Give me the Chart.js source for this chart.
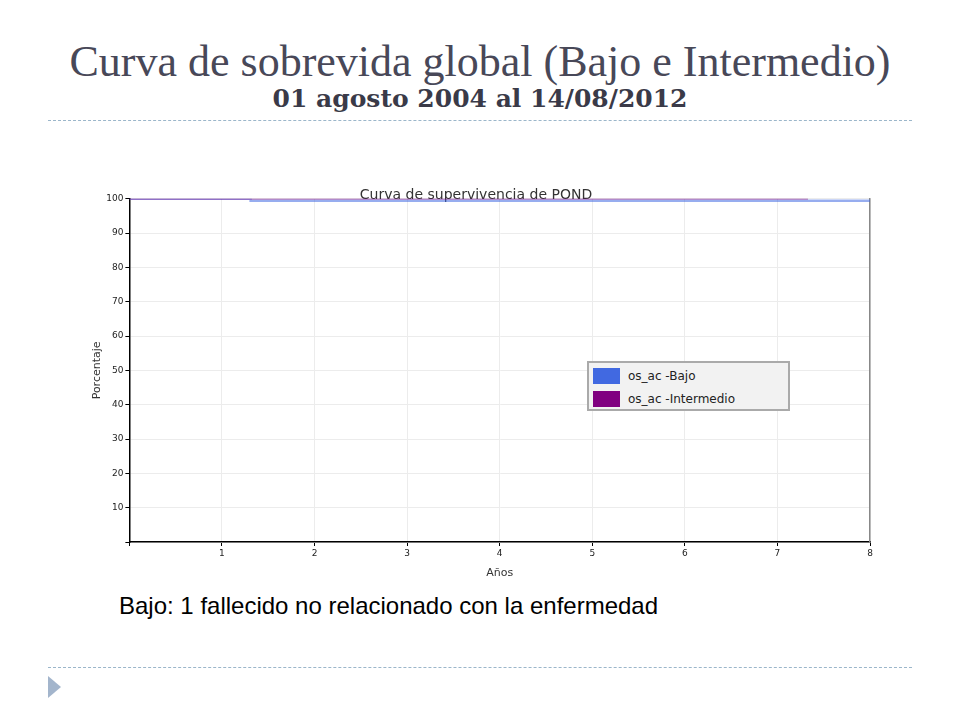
<!DOCTYPE html>
<html>
<head>
<meta charset="utf-8">
<script src="https://cdn.jsdelivr.net/npm/chart.js@4.4.1/dist/chart.umd.min.js"></script>
<style>
  body { margin: 0; width: 960px; height: 720px; background: #fff; position: relative; overflow: hidden; }
  .title { position: absolute; left: 0; width: 960px; text-align: center; }
  #t1 { top: 36px; font: 44px "Liberation Serif", serif; color: #484858; }
  #t2 { top: 84px; font: bold 25px "DejaVu Serif", serif; color: #3a3a48; }
  .dash { position: absolute; left: 48px; width: 864px; border-top: 1px dashed #9bb6ca; }
  #mark { position: absolute; left: 48px; top: 676px; width: 0; height: 0;
          border-top: 11px solid transparent; border-bottom: 11px solid transparent; border-left: 13px solid #a3b5cc; }
  #note { position: absolute; left: 119px; top: 592px; font: 24px "Liberation Sans", Arial, sans-serif; color: #000; }
  #wrap { position: absolute; left: 82px; top: 170px; width: 818px; height: 414px; }
  #legend { position: absolute; left: 587px; top: 361px; width: 199px; height: 46px; background: #f2f2f2;
            border: 2px solid #aaa; font: 12px "DejaVu Sans", sans-serif; color: #222; }
  #legend div { height: 21px; display: flex; align-items: center; margin-left: 4px; margin-top: 2px; }
  #legend span.sw { display: inline-block; width: 27px; height: 16px; margin-right: 8px; }
</style>
</head>
<body>
<div class="title" id="t1">Curva de sobrevida global (Bajo e Intermedio)</div>
<div class="title" id="t2">01 agosto 2004 al 14/08/2012</div>
<div class="dash" style="top:120px"></div>
<div id="wrap"><canvas id="km"></canvas></div>
<div id="legend"></div>
<div id="note">Bajo: 1 fallecido no relacionado con la enfermedad</div>
<div class="dash" style="top:667px"></div>
<div id="mark"></div>
<script>
// Kaplan-Meier steps, x in years, y in percent
var bajoX = [0, 1.31, 8];
var bajoY = [100, 99.4, 99.4];
var intermedioX = [0, 7.33];
var intermedioY = [100, 100];

var seriesLabels = ['os_ac -Bajo', 'os_ac -Intermedio'];
var seriesColors = ['#4169E1', '#800080'];
var lineColors = ['rgba(65,105,225,0.55)', 'rgba(128,0,128,0.7)'];

var chartTitle = 'Curva de supervivencia de POND';
var xTitle = 'Años';
var yTitle = 'Porcentaje';

function pts(xs, ys) {
    return xs.map(function (x, i) { return { x: x, y: ys[i] }; });
}

// legend box inside the plot
var leg = document.getElementById('legend');
seriesLabels.forEach(function (lab, i) {
    var row = document.createElement('div');
    row.innerHTML = '<span class="sw" style="background:' + seriesColors[i] + '"></span>' + lab;
    leg.appendChild(row);
});

var tickFont = { family: 'DejaVu Sans', size: 9 };
var ctx = document.getElementById('km').getContext('2d');
var myChart = new Chart(ctx, {
    type: 'line',
    data: {
        datasets: [{
            label: seriesLabels[0],
            data: pts(bajoX, bajoY),
            borderColor: lineColors[0],
            borderWidth: 2.5,
            stepped: 'before',
            pointRadius: 0,
            order: 1
        }, {
            label: seriesLabels[1],
            data: pts(intermedioX, intermedioY),
            borderColor: lineColors[1],
            borderWidth: 1.5,
            stepped: 'before',
            pointRadius: 0,
            order: 0
        }]
    },
    options: {
        responsive: true,
        maintainAspectRatio: false,
        animation: false,
        layout: { padding: { left: 0, right: 30, top: 0, bottom: 0 } },
        plugins: {
            legend: { display: false },
            tooltip: { enabled: false },
            title: {
                display: true,
                text: chartTitle,
                color: '#333',
                font: { family: 'DejaVu Sans', size: 14, weight: 'normal' },
                padding: { top: 17, bottom: -5 }
            }
        },
        scales: {
            x: {
                type: 'linear',
                min: 0, max: 8,
                ticks: {
                    stepSize: 1, color: '#222', font: tickFont, padding: 2,
                    callback: function (v) { return v === 0 ? '' : v; }
                },
                grid: { color: '#ececec', tickColor: '#000', tickLength: 4 },
                border: { color: '#000', width: 1.5 },
                title: { display: true, text: xTitle, color: '#333', font: { family: 'DejaVu Sans', size: 11 }, padding: { top: 6 } }
            },
            y: {
                min: 0, max: 100,
                ticks: {
                    stepSize: 10, color: '#222', font: tickFont, padding: 2,
                    callback: function (v) { return v === 0 ? '' : v; }
                },
                grid: { color: '#ececec', tickColor: '#000', tickLength: 4 },
                border: { color: '#000', width: 1.5 },
                title: { display: true, text: yTitle, color: '#333', font: { family: 'DejaVu Sans', size: 11 }, padding: { top: 9, bottom: 0 } }
            },
            y2: {
                position: 'right',
                min: 0, max: 100,
                ticks: { display: false },
                grid: { display: false, drawTicks: false },
                border: { color: '#888', width: 1.5 }
            }
        }
    }
});
</script>
</body>
</html>
